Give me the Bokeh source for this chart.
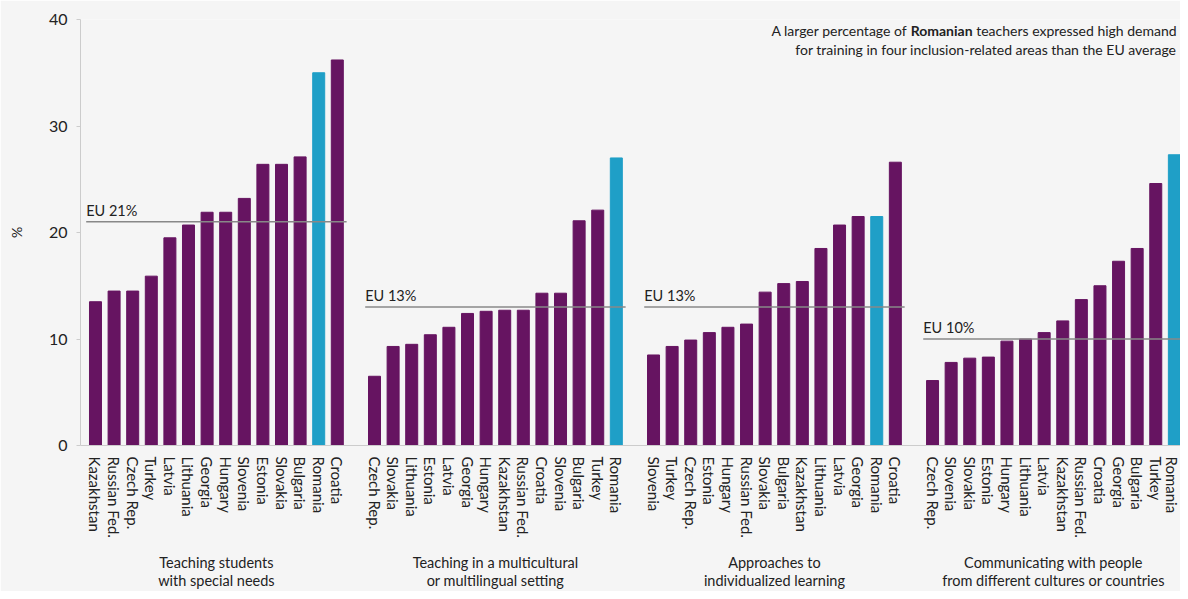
from bokeh.plotting import figure
from bokeh.models import ColumnDataSource, Range1d, FixedTicker, Label, LinearAxis
from bokeh.embed import file_html
from bokeh.resources import INLINE

# ---------------- data ----------------
group_line1 = ["Teaching students", "Teaching in a multicultural", "Approaches to", "Communicating with people"]
group_line2 = ["with special needs", "or multilingual setting", "individualized learning", "from different cultures or countries"]

countries_1 = ["Kazakhstan", "Russian Fed.", "Czech Rep.", "Turkey", "Latvia", "Lithuania", "Georgia",
               "Hungary", "Slovenia", "Estonia", "Slovakia", "Bulgaria", "Romania", "Croatia"]
values_1 = [13.5, 14.5, 14.5, 15.9, 19.5, 20.7, 21.9, 21.9, 23.2, 26.4, 26.4, 27.1, 35.0, 36.2]

countries_2 = ["Czech Rep.", "Slovakia", "Lithuania", "Estonia", "Latvia", "Georgia", "Hungary",
               "Kazakhstan", "Russian Fed.", "Croatia", "Slovenia", "Bulgaria", "Turkey", "Romania"]
values_2 = [6.5, 9.3, 9.5, 10.4, 11.1, 12.4, 12.6, 12.7, 12.7, 14.3, 14.3, 21.1, 22.1, 27.0]

countries_3 = ["Slovenia", "Turkey", "Czech Rep.", "Estonia", "Hungary", "Russian Fed.", "Slovakia",
               "Bulgaria", "Kazakhstan", "Lithuania", "Latvia", "Georgia", "Romania", "Croatia"]
values_3 = [8.5, 9.3, 9.9, 10.6, 11.1, 11.4, 14.4, 15.2, 15.4, 18.5, 20.7, 21.5, 21.5, 26.6]

countries_4 = ["Czech Rep.", "Slovenia", "Slovakia", "Estonia", "Hungary", "Lithuania", "Latvia",
               "Kazakhstan", "Russian Fed.", "Croatia", "Georgia", "Bulgaria", "Turkey", "Romania"]
values_4 = [6.1, 7.8, 8.2, 8.3, 9.8, 10.0, 10.6, 11.7, 13.7, 15.0, 17.3, 18.5, 24.6, 27.3]

eu_values = [21, 13, 13, 10]
eu_labels = ["EU 21%", "EU 13%", "EU 13%", "EU 10%"]

highlight = "Romania"

# ---------------- styling ----------------
FONT = "Lato"
PURPLE = "#661461"
BLUE = "#1f9fc7"
BG = "#f5f5f5"
TXT = "#222222"

all_countries = [countries_1, countries_2, countries_3, countries_4]
all_values = [values_1, values_2, values_3, values_4]
SLOT = 15  # 14 bars + 1 gap slot per group

xs, tops, colors = [], [], []
overrides = {}
for g, (cs, vs) in enumerate(zip(all_countries, all_values)):
    for j, (c, v) in enumerate(zip(cs, vs)):
        x = g * SLOT + j
        xs.append(x)
        tops.append(v)
        colors.append(BLUE if c == highlight else PURPLE)
        overrides[x] = c

src = ColumnDataSource(dict(x=xs, top=tops, color=colors))

p = figure(width=1180, height=591, output_backend="svg", toolbar_location=None,
           x_range=Range1d(-0.806, 58.33), y_range=Range1d(0, 40),
           min_border_left=80, min_border_right=0, min_border_top=19, min_border_bottom=145,
           background_fill_color=BG, border_fill_color=BG)
p.outline_line_color = None
p.xgrid.visible = False
p.ygrid.visible = False

p.vbar(x="x", top="top", width=0.645, color="color", source=src)

# EU reference lines
x0s = [g * SLOT - 0.5 for g in range(4)]
x1s = [g * SLOT + 13.5 for g in range(4)]
p.segment(x0=x0s, y0=eu_values, x1=x1s, y1=eu_values, line_color="#888888", line_width=1.5)
for g in range(4):
    p.add_layout(Label(x=x0s[g], y=eu_values[g], y_offset=3, text=eu_labels[g],
                       text_font=FONT, text_font_size="14.5px", text_color=TXT,
                       text_baseline="bottom", text_align="left"))

# x axis (country names)
p.xaxis.ticker = FixedTicker(ticks=xs)
p.xaxis.major_label_overrides = overrides
p.xaxis.major_label_orientation = "vertical"
p.xaxis.major_tick_line_color = None
p.xaxis.minor_tick_line_color = None
p.xaxis.axis_line_color = "#cccccc"
p.xaxis.major_label_text_font = FONT
p.xaxis.major_label_text_font_size = "15px"
p.xaxis.major_label_text_color = TXT
p.xaxis.major_label_standoff = 5

# group labels as two extra axes (one per text line)
group_centers = [g * SLOT + 6.5 for g in range(4)]
for lines, standoff in ((group_line1, 7), (group_line2, -8)):
    ax = LinearAxis(ticker=FixedTicker(ticks=group_centers),
                    major_label_overrides={c: t for c, t in zip(group_centers, lines)},
                    axis_line_color=None, major_tick_line_color=None, minor_tick_line_color=None,
                    major_label_text_font=FONT, major_label_text_font_size="14.5px",
                    major_label_text_color=TXT, major_label_standoff=standoff)
    p.add_layout(ax, "below")

# y axis
p.yaxis.ticker = FixedTicker(ticks=[0, 10, 20, 30, 40])
p.yaxis.axis_line_color = "#cccccc"
p.yaxis.major_tick_line_color = "#cccccc"
p.yaxis.major_tick_out = 4
p.yaxis.major_tick_in = 0
p.yaxis.minor_tick_line_color = None
p.yaxis.major_label_text_font = FONT
p.yaxis.major_label_text_font_size = "16px"
p.yaxis.major_label_text_color = TXT
p.yaxis.major_label_standoff = 9
p.yaxis.axis_label = "%"
p.yaxis.axis_label_text_font = FONT
p.yaxis.axis_label_text_font_size = "14px"
p.yaxis.axis_label_text_font_style = "normal"
p.yaxis.axis_label_text_color = TXT
p.yaxis.axis_label_standoff = 21

# annotation top right
p.add_layout(Label(x=58.12, y=38.97, text="teachers expressed high demand", text_font=FONT,
                   text_font_size="14px", text_color=TXT, text_align="right", text_baseline="middle"))
p.add_layout(Label(x=47.15, y=38.97, text="Romanian", text_font=FONT, text_font_style="bold",
                   text_font_size="14px", text_color=TXT, text_align="right", text_baseline="middle"))
p.add_layout(Label(x=43.65, y=38.97, text="A larger percentage of", text_font=FONT,
                   text_font_size="14px", text_color=TXT, text_align="right", text_baseline="middle"))
p.add_layout(Label(x=58.12, y=37.19, text="for training in four inclusion-related areas than the EU average",
                   text_font=FONT, text_font_size="14px", text_color=TXT, text_align="right",
                   text_baseline="middle"))

open("out.html", "w").write(file_html(p, INLINE))
